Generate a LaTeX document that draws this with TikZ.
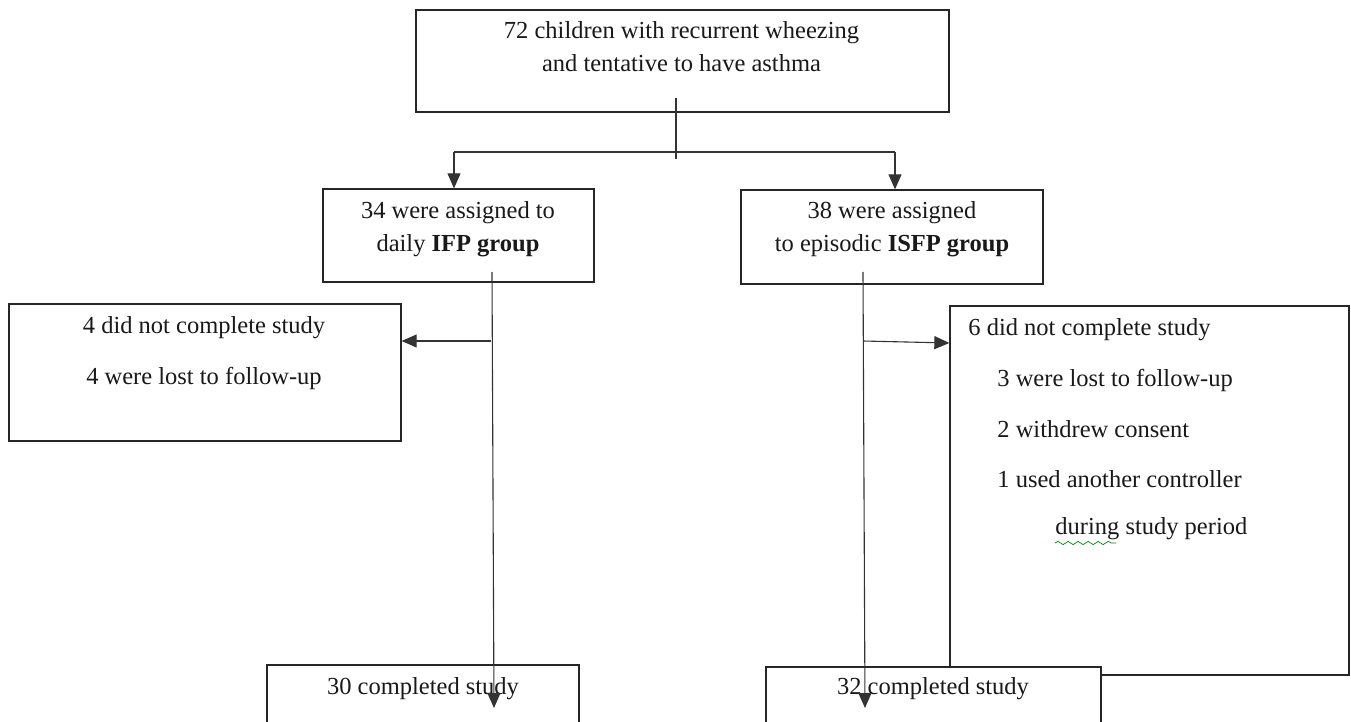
\documentclass[tikz,border=0pt]{standalone}
\usepackage{fontspec}
\setmainfont{Liberation Serif}
\usetikzlibrary{arrows.meta,fit,decorations.pathmorphing}
\begin{document}
\begin{tikzpicture}[x=0.5pt,y=-0.5pt,
  box/.style={draw=black!85,line width=0.65pt,inner sep=0pt,fill=white},
  txt/.style={inner sep=0pt,font=\fontsize{12.25pt}{16.5pt}\selectfont,text=black!90},
  ctxt/.style={txt,align=center},
  ln/.style={draw=black!80,line width=0.55pt},
  arr/.style={ln,-{Triangle[length=7.5pt,width=6.5pt]}}]
\clip (0,0) rectangle (1351,722);
\fill[white] (0,0) rectangle (1351,722);
% boxes
\node[box,fit={(416,10) (949,112)}] (top) {};
\node[box,fit={(323,189) (594,282)}] (ifp) {};
\node[box,fit={(741,190) (1043,284)}] (isfp) {};
\node[box,fit={(9,304) (401,441)}] (lostL) {};
\node[box,fit={(950,306) (1349,675)}] (lostR) {};
\node[box,fit={(267,665) (579,760)}] (doneL) {};
\node[box,fit={(766,667) (1101,760)}] (doneR) {};
% texts
\node[ctxt] (ttop) at (681.5,47) {72 children with recurrent wheezing\\and tentative to have asthma};
\node[ctxt] (tifp) at (458,229) {34 were assigned to\\daily \textbf{IFP group}};
\node[ctxt] (tisfp) at (892,229) {38 were assigned\\to episodic \textbf{ISFP group}};
\node[txt] (tl1) at (204,328) {4 did not complete study};
\node[txt] (tl2) at (204,378) {4 were lost to follow-up};
\node[txt,anchor=west] (tr1) at (968,330) {6 did not complete study};
\node[txt,anchor=west] (tr2) at (997,380) {3 were lost to follow-up};
\node[txt,anchor=west] (tr3) at (997,429) {2 withdrew consent};
\node[txt,anchor=west] (tr4) at (997,479) {1 used another controller};
\node[txt,anchor=west] (tr5) at (1055,529) {during study period};
\node[txt] (td1) at (423,689) {30 completed study};
\node[txt] (td2) at (933,689) {32 completed study};
\draw[green!55!black,line width=0.35pt,decoration={snake,amplitude=0.8,segment length=5},decorate]
  (1055,543) -- (1116,543);
% connectors
\coordinate (s0) at (676,98);
\coordinate (s1) at (676,159);
\coordinate (hl) at (454,152);
\coordinate (hr) at (895,152);
\draw[ln] (s0) -- (s1);
\draw[ln] (hl) -- (hr);
\draw[arr] (hl) -- (hl |- ifp.north);
\draw[arr] (hr) -- (hr |- isfp.north);
\coordinate (a0) at (492,272);
\coordinate (a1) at (494,708);
\coordinate (am) at (491,341);
\draw[arr] (a0) -- (a1);
\draw[arr] (am) -- (lostL.east |- am);
\coordinate (b0) at (863,272);
\coordinate (b1) at (865,708);
\coordinate (bm) at (863,341);
\draw[arr] (b0) -- (b1);
\draw[arr] (bm) -- (lostR.west |- 0,343);
\end{tikzpicture}
\end{document}
